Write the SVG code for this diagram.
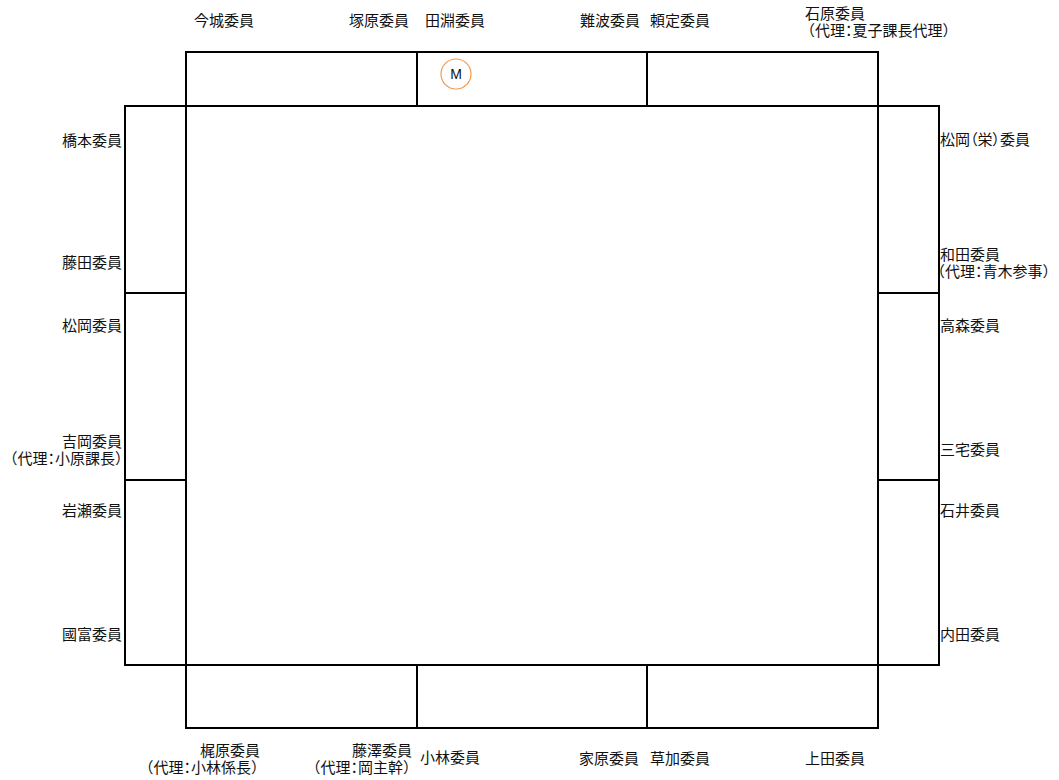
<svg xmlns="http://www.w3.org/2000/svg" width="1059" height="780" viewBox="0 0 1059 780">
<style>
.t{fill:none;stroke:#000;stroke-width:2}
.l{font-family:"Noto Sans CJK JP","Noto Sans CJK SC",sans-serif;font-size:15px;fill:#111}
.p{font-feature-settings:"palt"}
.e{text-anchor:end}
.m{font-family:"Liberation Sans",Arial,sans-serif;font-size:14px;fill:#111;text-anchor:middle}
</style>
<rect width="1059" height="780" fill="#fff"/>
<g id="table-top">
<rect class="t" x="186" y="52" width="692" height="54"/>
<line class="t" x1="417" y1="52" x2="417" y2="106"/>
<line class="t" x1="647" y1="52" x2="647" y2="106"/>
</g>
<g id="table-bottom">
<rect class="t" x="186" y="665" width="692" height="63"/>
<line class="t" x1="417" y1="665" x2="417" y2="728"/>
<line class="t" x1="647" y1="665" x2="647" y2="728"/>
</g>
<g id="table-left">
<rect class="t" x="125" y="106" width="61" height="559"/>
<line class="t" x1="125" y1="293" x2="186" y2="293"/>
<line class="t" x1="125" y1="480" x2="186" y2="480"/>
</g>
<g id="table-right">
<rect class="t" x="878" y="106" width="61" height="559"/>
<line class="t" x1="878" y1="293" x2="939" y2="293"/>
<line class="t" x1="878" y1="480" x2="939" y2="480"/>
</g>
<g id="center">
<rect class="t" x="186" y="106" width="692" height="559"/>
</g>
<g id="mic">
<circle cx="456" cy="74" r="15" fill="none" stroke="#f39a4a" stroke-width="1.2"/>
<text class="m" x="456" y="79">M</text>
</g>
<g id="top-labels">
<g id="imashiro"><text class="l" x="194" y="26">今城委員</text></g>
<g id="tsukahara"><text class="l" x="349" y="26">塚原委員</text></g>
<g id="tabuchi"><text class="l" x="425" y="26">田淵委員</text></g>
<g id="namba"><text class="l" x="580" y="26">難波委員</text></g>
<g id="yorisada"><text class="l" x="650" y="26">頼定委員</text></g>
<g id="ishihara"><text class="l" x="805" y="19">石原委員</text><text class="l" x="800" y="36">（代理<tspan class="p">：</tspan>夏子課長代理）</text></g>
</g>
<g id="left-labels">
<g id="hashimoto"><text class="l e" x="122" y="146">橋本委員</text></g>
<g id="fujita"><text class="l e" x="122" y="268">藤田委員</text></g>
<g id="matsuoka"><text class="l e" x="122" y="331">松岡委員</text></g>
<g id="yoshioka"><text class="l e" x="122" y="447">吉岡委員</text><text class="l e" x="130" y="464">（代理<tspan class="p">：</tspan>小原課長）</text></g>
<g id="iwase"><text class="l e" x="122" y="516">岩瀬委員</text></g>
<g id="kunitomi"><text class="l e" x="122" y="640">國富委員</text></g>
</g>
<g id="right-labels">
<g id="matsuoka-ei"><text class="l p" x="940" y="145">松岡（栄）委員</text></g>
<g id="wada"><text class="l" x="940" y="260">和田委員</text><text class="l" x="930" y="277">（代理<tspan class="p">：</tspan>青木参事）</text></g>
<g id="takamori"><text class="l" x="940" y="331">高森委員</text></g>
<g id="miyake"><text class="l" x="940" y="455">三宅委員</text></g>
<g id="ishii"><text class="l" x="940" y="516">石井委員</text></g>
<g id="uchida"><text class="l" x="940" y="640">内田委員</text></g>
</g>
<g id="bottom-labels">
<g id="kajiwara"><text class="l e" x="260" y="756">梶原委員</text><text class="l e" x="266" y="773">（代理<tspan class="p">：</tspan>小林係長）</text></g>
<g id="fujisawa"><text class="l e" x="412" y="756">藤澤委員</text><text class="l e" x="418" y="773">（代理<tspan class="p">：</tspan>岡主幹）</text></g>
<g id="kobayashi"><text class="l" x="420" y="763">小林委員</text></g>
<g id="iehara"><text class="l" x="579" y="764">家原委員</text></g>
<g id="kusaka"><text class="l" x="650" y="764">草加委員</text></g>
<g id="ueda"><text class="l" x="805" y="764">上田委員</text></g>
</g>
</svg>
